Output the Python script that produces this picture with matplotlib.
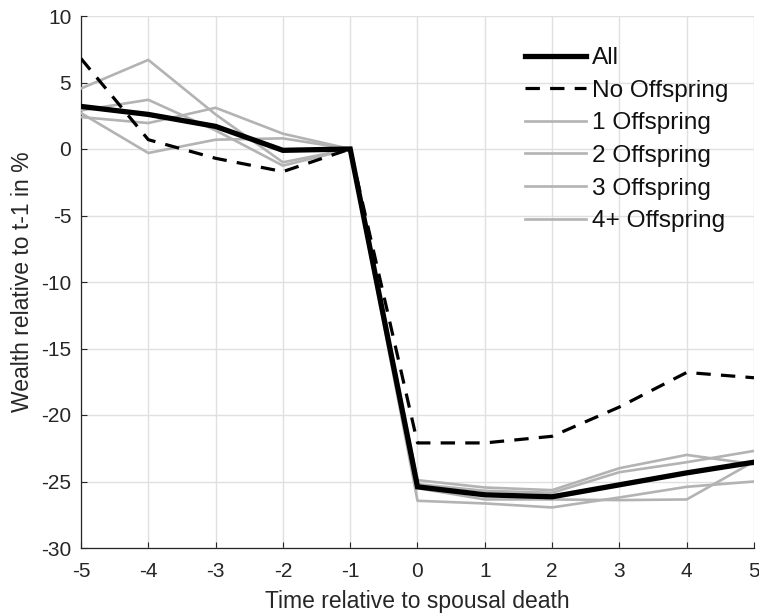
import matplotlib
matplotlib.use("Agg")
import matplotlib.pyplot as plt

plt.rcParams['font.family'] = ['Liberation Sans', 'DejaVu Sans']

t = [-5, -4, -3, -2, -1, 0, 1, 2, 3, 4, 5]
all_vals = [3.2, 2.6, 1.7, -0.1, 0, -25.4, -26.0, -26.15, -25.25, -24.35, -23.55]
no_off = [6.8, 0.7, -0.7, -1.7, 0, -22.1, -22.1, -21.6, -19.4, -16.8, -17.2]
off1 = [2.4, 1.95, 3.1, 1.15, 0, -24.9, -25.45, -25.65, -24.0, -23.0, -23.7]
off2 = [2.9, 3.7, 1.4, -1.25, 0, -25.2, -25.7, -25.85, -24.3, -23.55, -22.7]
off3 = [4.55, 6.7, 2.6, -1.0, 0, -26.45, -26.65, -26.95, -26.2, -25.4, -25.0]
off4 = [2.7, -0.3, 0.7, 0.8, 0, -25.5, -26.35, -26.35, -26.4, -26.35, -23.5]
labels = ["All", "No Offspring", "1 Offspring", "2 Offspring", "3 Offspring", "4+ Offspring"]
xticks = list(range(-5, 6))
yticks = list(range(-30, 11, 5))

W, H = 759, 616
fig = plt.figure(figsize=(W / 100, H / 100), dpi=100)
ax = fig.add_axes([81 / W, (H - 548) / H, (754 - 81) / W, (548 - 16) / H])

gray = '#b3b3b3'
h_all, = ax.plot(t, all_vals, color='black', lw=3.8, zorder=5, solid_joinstyle='miter')
h_no, = ax.plot(t, no_off, color='black', lw=2.3, ls=(0, (4.5, 3.2)), zorder=4)
hg = []
for s in [off1, off2, off3, off4]:
    h, = ax.plot(t, s, color=gray, lw=1.9, zorder=3)
    hg.append(h)

ax.set_xlim(-5, 5)
ax.set_ylim(-30, 10)
ax.set_xticks(xticks)
ax.set_yticks(yticks)
ax.set_xticklabels([str(v) for v in xticks])
ax.set_yticklabels([str(v) for v in yticks])
ax.grid(True, color='#e0e0e0', lw=1.0, zorder=0)
ax.set_axisbelow(True)
for sp in ['top', 'right']:
    ax.spines[sp].set_visible(False)
for sp in ['left', 'bottom']:
    ax.spines[sp].set_color('#262626')
    ax.spines[sp].set_linewidth(0.9)
ax.tick_params(direction='in', length=4, width=0.8, colors='#262626', labelsize=15)
ax.tick_params(axis='x', pad=10)
ax.tick_params(axis='y', pad=7)

ax.set_xlabel("Time relative to spousal death", fontsize=16.5, color='#262626', labelpad=6.5)
ax.set_ylabel("Wealth relative to t-1 in %", fontsize=16.5, color='#262626', labelpad=5)

leg = ax.legend([h_all, h_no] + hg, labels, loc='upper left',
                bbox_to_anchor=(525 / W, (H - 47) / H), bbox_transform=fig.transFigure,
                frameon=False, fontsize=17.6, handlelength=2.5, handletextpad=0.25,
                labelspacing=0.43, borderpad=0, borderaxespad=0)
for txt in leg.get_texts():
    txt.set_color('#111111')

fig.savefig("out.png", dpi=100)
